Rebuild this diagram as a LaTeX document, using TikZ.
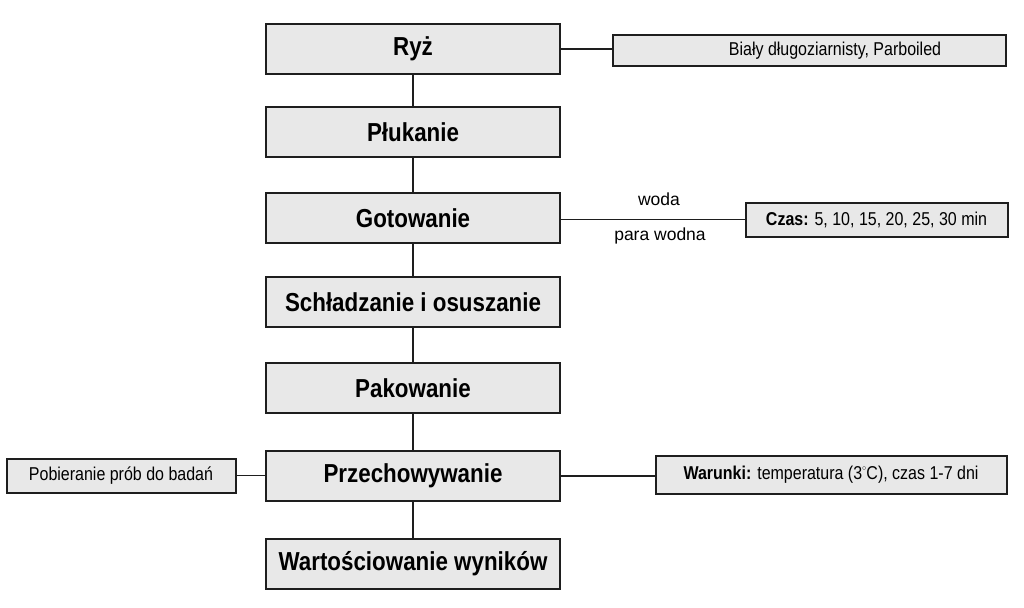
\documentclass[tikz,border=0pt]{standalone}
\usepackage{fontspec}
\setmainfont{Liberation Sans}
\newfontfamily\narrowfont{Liberation Sans}[FakeStretch=0.86]
\definecolor{boxfill}{HTML}{E8E8E8}
\definecolor{boxline}{HTML}{1E1E1E}
\tikzset{
	mainbox/.style={draw=boxline, line width=2.4pt, fill=boxfill, minimum width=294pt, minimum height=50pt, inner sep=0pt,
		font=\narrowfont\bfseries\fontsize{26}{30}\selectfont},
	sidebox/.style={draw=boxline, line width=2pt, fill=boxfill, inner sep=0pt,
		font=\narrowfont\fontsize{18.6}{22}\selectfont},
	link/.style={draw=boxline, line width=1.6pt},
	medium/.style={font=\fontsize{17.5}{21}\selectfont, inner sep=0pt}
}
\begin{document}
\begin{tikzpicture}[x=1pt, y=-1pt]
		\useasboundingbox (0,0) rectangle (1024,607);
		
		\node[mainbox] at (413,49) (a) {Ryż};
		\node[mainbox] at (413,132) (b) {Płukanie};
		\node[mainbox] at (413,218) (c) {Gotowanie};
		\node[mainbox] at (413,302) (d) {Schładzanie i osuszanie};
		\node[mainbox] at (413,388) (e) {Pakowanie};
		\node[mainbox] at (413,476) (f) {Przechowywanie};
		\node[mainbox] at (413,564) (g) {Wartościowanie wyników};
		
		\node[sidebox, minimum width=393pt, minimum height=31pt] at (809,51) (h) {};
		\node[sidebox, draw=none, fill=none] at (835,51) (i) {Biały długoziarnisty, Parboiled};
		\node[sidebox, minimum width=262pt, minimum height=34pt] at (876.5,219.5) (j) {\textbf{Czas:} 5, 10, 15, 20, 25, 30 min};
		\node[sidebox, minimum width=229pt, minimum height=34pt] at (121,475.5) (k) {Pobieranie prób do badań};
		\node[sidebox, minimum width=351pt, minimum height=38pt] at (831,474.5) (l) {\textbf{Warunki:} temperatura (3\raisebox{0.9ex}{\fontsize{8}{8}\selectfont$\circ$}C), czas 1-7 dni};
		
		\node[medium] at (659,199) (m) {woda};
		\node[medium] at (660,236) (n) {para wodna};
		
		\draw[link] (a) -- (b);
		\draw[link] (b) -- (c);
		\draw[link] (c) -- (d);
		\draw[link] (d) -- (e);
		\draw[link] (e) -- (f);
		\draw[link] (f) -- (g);
		
		\draw[link] (a.east) -- (a.east -| h.west);
		\draw[link] (c.east |- j.west) -- (j.west);
		\draw[link] (k.east) -- (k.east -| f.west);
		\draw[link] (f.east) -- (f.east -| l.west);
	\end{tikzpicture}
\end{document}
